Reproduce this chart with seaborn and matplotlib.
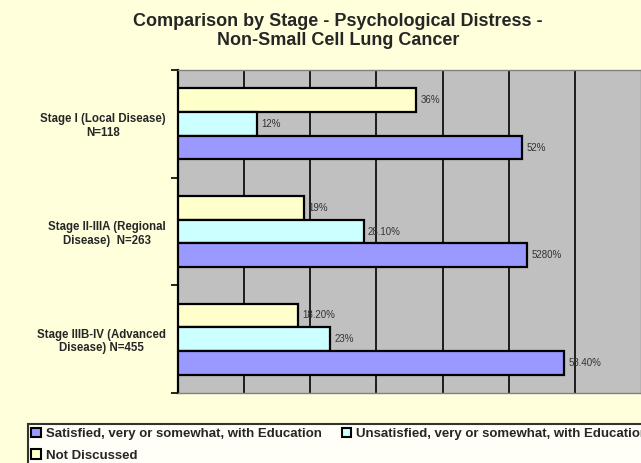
import matplotlib
matplotlib.use("Agg")
import matplotlib.pyplot as plt
from matplotlib.patches import Patch
import pandas as pd
import seaborn as sns

# ---------------------------------------------------------------------
# Data
# ---------------------------------------------------------------------
stages = [
    "Stage I (Local Disease)\nN=118",
    "Stage II-IIIA (Regional\nDisease)  N=263",
    "Stage IIIB-IV (Advanced\nDisease) N=455",
]
series = [
    "Satisfied, very or somewhat, with Education",
    "Unsatisfied, very or somewhat, with Education",
    "Not Discussed",
]
satisfied = [52.0, 52.8, 58.4]
unsatisfied = [12.0, 28.1, 23.0]
not_discussed = [36.0, 19.0, 18.2]

# labels exactly as printed on the original
satisfied_labels = ["52%", "5280%", "58.40%"]
unsatisfied_labels = ["12%", "28.10%", "23%"]
not_discussed_labels = ["36%", "19%", "18.20%"]

colors = {
    series[0]: "#9999FF",
    series[1]: "#CCFFFF",
    series[2]: "#FFFFCC",
}
bg = "#FFFFDC"

df = pd.DataFrame({
    "stage": stages * 3,
    "series": [series[0]] * 3 + [series[1]] * 3 + [series[2]] * 3,
    "value": satisfied + unsatisfied + not_discussed,
})

sns.set_theme(style="white")
plt.rcParams["font.family"] = ["Liberation Sans", "DejaVu Sans"]

fig = plt.figure(figsize=(6.41, 4.63), dpi=100, facecolor=bg)
ax = fig.add_axes([178 / 641, 1 - 393 / 463, 1 - 178 / 641, (393 - 70) / 463])
ax.set_facecolor("#C0C0C0")

# top-to-bottom inside each group: Not Discussed, Unsatisfied, Satisfied
hue_order = [series[2], series[1], series[0]]
sns.barplot(data=df, y="stage", x="value", hue="series", order=stages,
            hue_order=hue_order, palette=colors, saturation=1, orient="h",
            width=0.66, edgecolor="black", linewidth=1.6, ax=ax,
            legend=False, zorder=3)

label_sets = [not_discussed_labels, unsatisfied_labels, satisfied_labels]
for cont, labs in zip(ax.containers, label_sets):
    ax.bar_label(cont, labels=labs, padding=3, fontsize=7, color="#333333")

ax.set_xlim(0, 70)
ax.set_ylim(2.5, -0.5)
ax.set_xticks(range(10, 70, 10))
ax.set_xticklabels([])
ax.tick_params(axis="x", length=0)
ax.xaxis.grid(True, color="black", linewidth=1.2, zorder=1)
ax.yaxis.grid(False)

ax.set_yticks(range(len(stages)))
ax.set_yticklabels(stages, fontsize=8.3, fontweight="bold",
                   multialignment="center")
ax.set_yticks([-0.5, 0.5, 1.5, 2.5], minor=True)
ax.tick_params(axis="y", which="major", length=0, pad=9)
ax.tick_params(axis="y", which="minor", length=5, width=1.2,
               direction="out", color="black", left=True)
ax.set_xlabel("")
ax.set_ylabel("")

for side in ["top", "bottom", "right"]:
    ax.spines[side].set_color("#808080")
    ax.spines[side].set_linewidth(1.0)
ax.spines["left"].set_color("black")
ax.spines["left"].set_linewidth(1.6)

fig.text(0.527, 1 - 31 / 463,
         "Comparison by Stage - Psychological Distress -\nNon-Small Cell Lung Cancer",
         ha="center", va="center", fontsize=13, fontweight="bold",
         linespacing=1.2)

# legend: satisfied, not discussed in column 1, unsatisfied in column 2
handles = [Patch(facecolor=colors[s], edgecolor="black", linewidth=1.5)
           for s in [series[0], series[2], series[1]]]
leg = fig.legend(handles, [series[0], series[2], series[1]], ncol=2,
                 loc="upper left", bbox_to_anchor=(27.5 / 641, 1 - 424 / 463),
                 borderaxespad=0, frameon=True, fancybox=False,
                 prop={"weight": "bold", "size": 9.5},
                 handlelength=0.7, handleheight=0.7, handletextpad=0.4,
                 columnspacing=1.5, borderpad=0.3, labelspacing=0.7)
leg.get_frame().set_edgecolor("black")
leg.get_frame().set_linewidth(1.5)
leg.get_frame().set_facecolor("white")

fig.savefig("out.png", dpi=100, facecolor=bg)
